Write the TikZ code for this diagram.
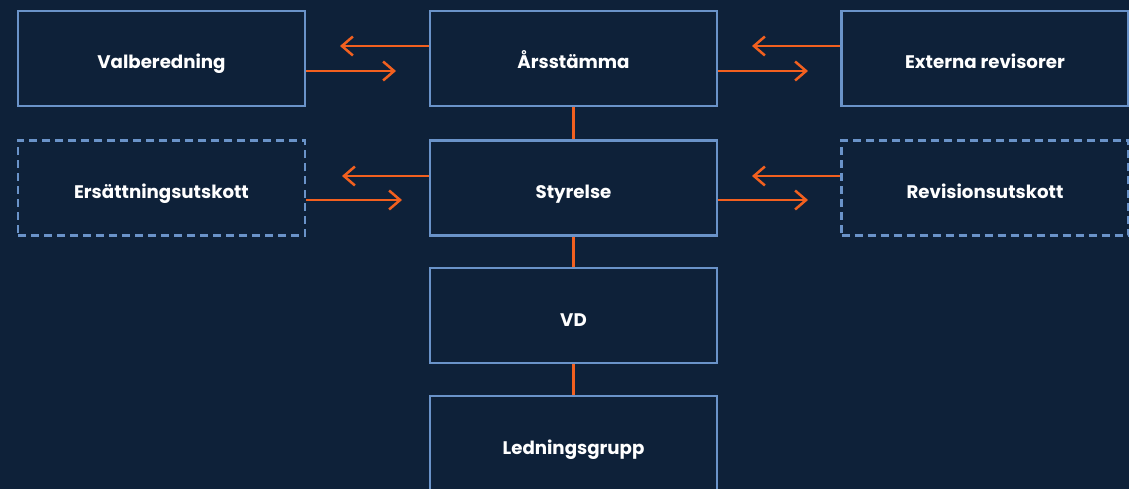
\documentclass[tikz,border=0pt]{standalone}
\usepackage{fontspec}
\setmainfont{Poppins}
\usetikzlibrary{arrows.meta}
\definecolor{bg}{HTML}{0E2139}
\definecolor{edge}{HTML}{6A93C9}
\definecolor{org}{HTML}{F2601F}
\begin{document}
\begin{tikzpicture}[x=1pt,y=-1pt,
  box/.style={draw=edge,line width=2.2pt,fill=bg,minimum width=287pt,minimum height=95pt,
    inner sep=0pt,text=white,text height=21pt,text depth=0pt,font=\fontsize{18.2}{21}\selectfont\bfseries},
  dbox/.style={box,dash pattern=on 8pt off 5pt},
  link/.style={draw=org,line width=2.5pt},
  arr/.style={link,-{Straight Barb[length=11pt,width=19pt,line width=2.5pt]}}]
\fill[bg] (0,0) rectangle (1129,489);
\useasboundingbox (0,0) rectangle (1129,489);
\node[box]  (val) at (161.5,58.5) {Valberedning};
\node[box]  (ars) at (573.5,58.5) {Årsstämma};
\node[box]  (ext) at (985,58.5) {Externa revisorer};
\node[dbox] (ers) at (161.5,188) {Ersättningsutskott};
\node[box]  (sty) at (573.5,188) {Styrelse};
\node[dbox] (rev) at (985,188) {Revisionsutskott};
\node[box]  (vd)  at (573.5,315.5) {VD};
\node[box]  (led) at (573.5,443.5) {Ledningsgrupp};
\coordinate (a1) at (340,46);
\coordinate (a2) at (396,71);
\coordinate (a3) at (752,46);
\coordinate (a4) at (808,71);
\coordinate (b1) at (342,176);
\coordinate (b2) at (402,200);
\coordinate (b3) at (752,176);
\coordinate (b4) at (808,200);
\draw[arr] (ars.west |- a1) -- (a1);
\draw[arr] (val.east |- a2) -- (a2);
\draw[arr] (ext.west |- a3) -- (a3);
\draw[arr] (ars.east |- a4) -- (a4);
\draw[arr] (sty.west |- b1) -- (b1);
\draw[arr] (ers.east |- b2) -- (b2);
\draw[arr] (rev.west |- b3) -- (b3);
\draw[arr] (sty.east |- b4) -- (b4);
\draw[link] (ars.south) -- (sty.north);
\draw[link] (sty.south) -- (vd.north);
\draw[link] (vd.south) -- (led.north);
\end{tikzpicture}
\end{document}
